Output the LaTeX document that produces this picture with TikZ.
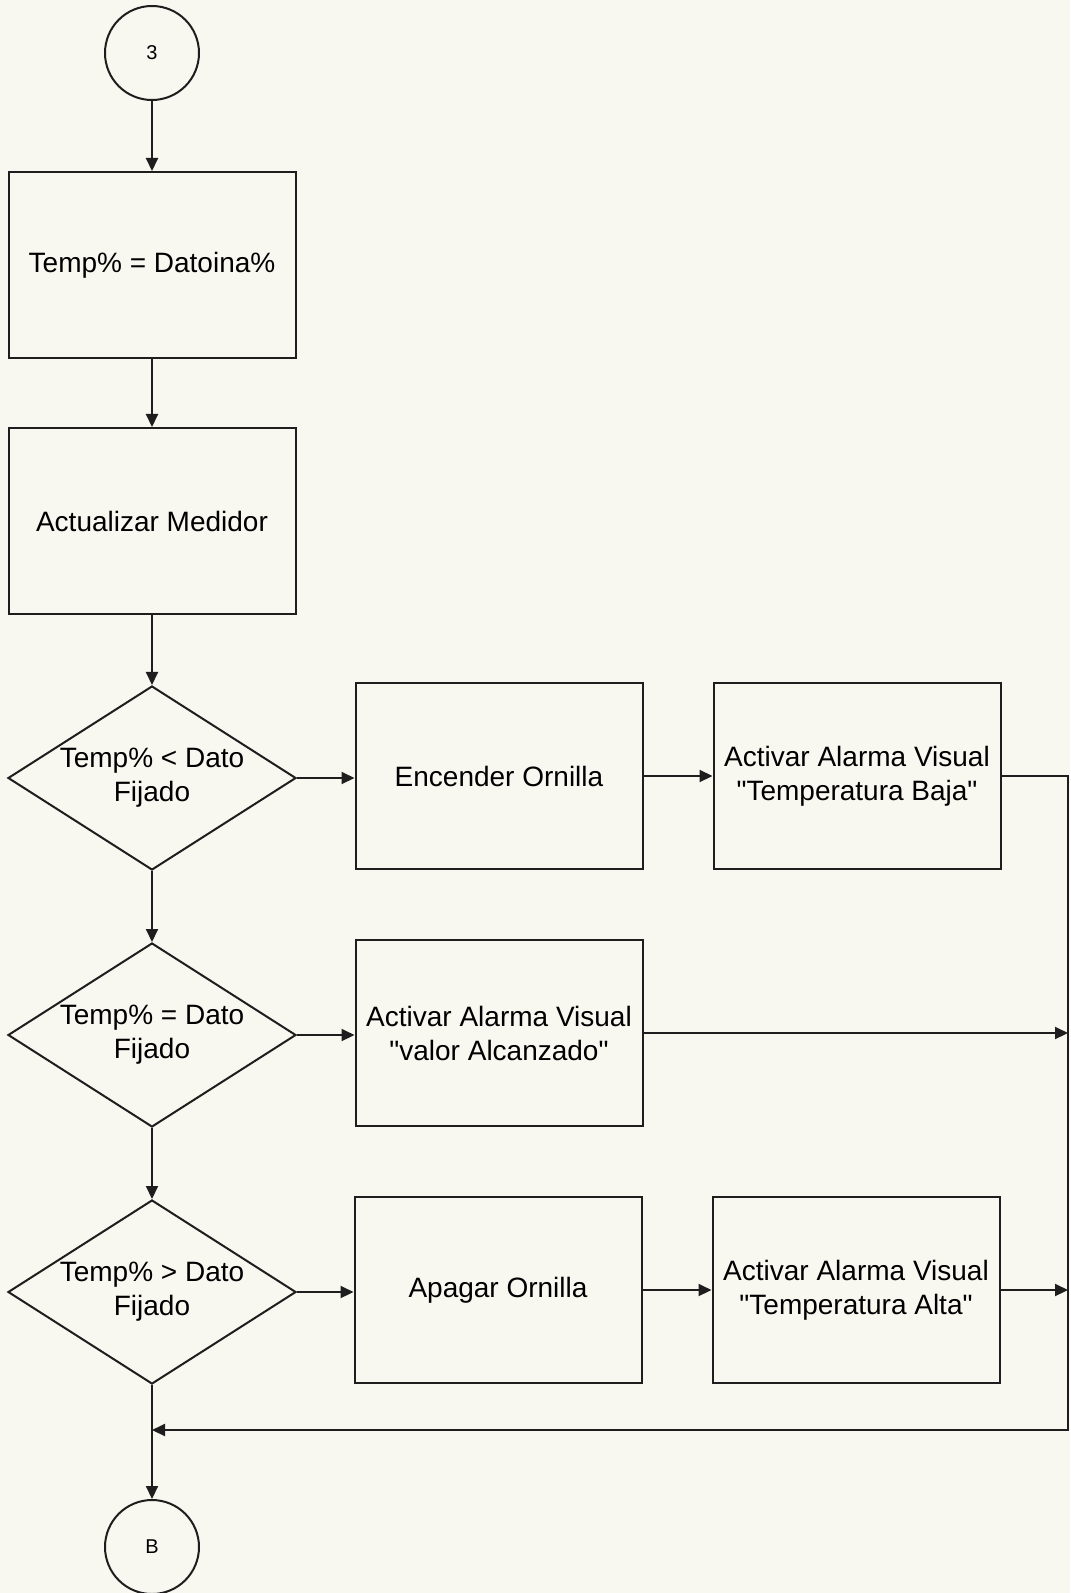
\documentclass[tikz,border=0pt]{standalone}
\usepackage{fontspec}
\setmainfont{Liberation Sans}[Ligatures=TeXOff]
\usetikzlibrary{arrows.meta, shapes.geometric, positioning, calc}
\definecolor{paper}{RGB}{248,247,240}
\definecolor{ink}  {RGB}{ 30, 30, 30}
\tikzset{
  % Process box
  PB/.style={rectangle,draw=ink,minimum width=143.5pt,minimum height=93pt,
             align=center,font=\fontsize{14}{17}\selectfont,inner sep=0pt,
             line width=1pt},
  % Decision diamond
  DC/.style={diamond,draw=ink,aspect=1.57,minimum width=144pt,
             minimum height=92pt,align=center,
             font=\fontsize{14}{17}\selectfont,inner sep=0pt,line width=1pt},
  % Page connector
  CN/.style={circle,draw=ink,minimum size=47pt,inner sep=0pt,
             font=\fontsize{10}{12}\selectfont,line width=1pt},
  % Arrows
  Arr/.style={-{Triangle[length=6.5pt,width=6pt]},line width=1pt,color=ink},
  Ln/.style ={line width=1pt,color=ink},
}
\begin{document}
\begin{tikzpicture}[x=0.5pt,y=-0.5pt]
      \fill[paper] (0,0) rectangle (1070,1593);
      \useasboundingbox (0,0) rectangle (1070,1593);
      % main column
      \node[CN] at (152,53) (c3) {3};
      \node[PB] at (152,265) (tmp) {Temp\% = Datoina\%};
      \node[PB] at (152,521) (med) {Actualizar Medidor};
      \node[DC] at (152,778) (dlt) {Temp\% < Dato\\Fijado};
      \node[DC] at (152,1035) (deq) {Temp\% = Dato\\Fijado};
      \node[DC] at (152,1292) (dgt) {Temp\% > Dato\\Fijado};
      \node[CN] at (152,1547) (cb) {B};
      % branches
      \node[PB] at (499,776) (enc) {Encender Ornilla};
      \node[PB] at (857,776) (alb)
            {Activar Alarma Visual\\"Temperatura Baja"};
      \node[PB] at (499,1033) (alv)
            {Activar Alarma Visual\\"valor Alcanzado"};
      \node[PB] at (498,1290) (apa) {Apagar Ornilla};
      \node[PB] at (856,1290) (ala)
            {Activar Alarma Visual\\"Temperatura Alta"};
      \coordinate (rtop) at (1068,776);
      \coordinate (rbot) at (1068,1430);
      % connectors
      \draw[Arr] (c3) -- (tmp);
      \draw[Arr] (tmp) -- (med);
      \draw[Arr] (med) -- (dlt);
      \draw[Arr] (dlt) -- (deq);
      \draw[Arr] (deq) -- (dgt);
      \draw[Arr] (dgt) -- (cb);
      \draw[Arr] (dlt.east) -- (enc.west |- dlt.east);
      \draw[Arr] (enc) -- (alb);
      \draw[Arr] (deq.east) -- (alv.west |- deq.east);
      \draw[Arr] (dgt.east) -- (apa.west |- dgt.east);
      \draw[Arr] (apa) -- (ala);
      \draw[Arr] (alv.east) -- (alv.east -| rtop);
      \draw[Arr] (ala.east) -- (ala.east -| rtop);
      \draw[Arr] (alb.east) -- (rtop) -- (rbot) -- (rbot -| cb);
    \end{tikzpicture}
\end{document}
